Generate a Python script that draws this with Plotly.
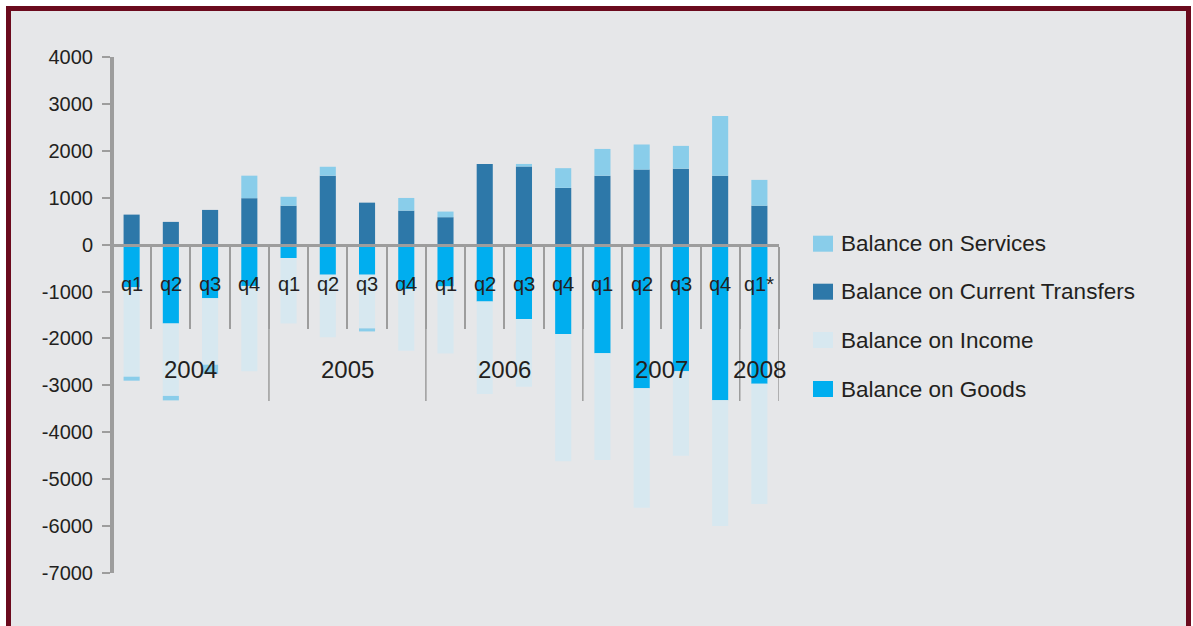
import plotly.graph_objects as go

# ---------------- data ----------------
years = ["2004", "2004", "2004", "2004",
         "2005", "2005", "2005", "2005",
         "2006", "2006", "2006", "2006",
         "2007", "2007", "2007", "2007",
         "2008"]
quarters = ["q1", "q2", "q3", "q4",
            "q1", "q2", "q3", "q4",
            "q1", "q2", "q3", "q4",
            "q1", "q2", "q3", "q4",
            "q1*"]

goods = [-910, -1680, -1145, -880,
         -285, -640, -640, -950,
         -890, -1210, -1585, -1905,
         -2315, -3060, -2700, -3320,
         -2965]
income = [-1905, -1545, -1415, -1820,
          -1395, -1335, -1145, -1310,
          -1430, -1975, -1445, -2715,
          -2275, -2550, -1800, -2680,
          -2565]
transfers = [640, 485, 740, 990,
             830, 1470, 895, 725,
             585, 1720, 1665, 1210,
             1470, 1600, 1620, 1470,
             830]
services = [-85, -95, -195, 480,
            190, 190, -65, 270,
            120, 0, 55, 420,
            570, 535, 485, 1270,
            550]

series_names = ["Balance on Goods", "Balance on Income",
                "Balance on Current Transfers", "Balance on Services"]
series_values = [goods, income, transfers, services]
series_colors = ["#00aeef", "#d7e8f0", "#2d78a9", "#89cdea"]

ytick_vals = [4000, 3000, 2000, 1000, 0, -1000, -2000, -3000, -4000, -5000, -6000, -7000]
ytick_text = ["4000", "3000", "2000", "1000", "0", "-1000", "-2000", "-3000",
              "-4000", "-5000", "-6000", "-7000"]

# ---------------- layout geometry ----------------
W, H = 1193, 626
ML, MR, MT, MB = 112, 414, 57, 53
PW, PH = W - ML - MR, H - MT - MB
YMIN, YMAX = -7000, 4000


def px_x(p):
    return (p - ML) / PW


def px_y(p):
    return (H - MB - p) / PH


FONT = "Liberation Sans Narrow, Arial Narrow, Liberation Sans, Arial, sans-serif"
TXT = "#231f20"
AXC = "#9d9d9d"

cats = [f"{y} {q}" for y, q in zip(years, quarters)]

fig = go.Figure()
for name, vals, col in zip(series_names, series_values, series_colors):
    fig.add_trace(go.Bar(x=cats, y=vals, name=name, marker_color=col,
                         marker_line_width=0, width=0.41, showlegend=False))

shapes = []
annotations = []

# outer frame
shapes.append(dict(type="rect", xref="paper", yref="paper",
                   x0=px_x(8.5), x1=px_x(1188.5), y0=px_y(660), y1=px_y(8.5),
                   line=dict(color="#6b0a1d", width=5), fillcolor="#e6e7e9",
                   layer="below"))

# quarter labels
for c, q in zip(cats, quarters):
    annotations.append(dict(x=c, y=0, xref="x", yref="y", text=q, showarrow=False,
                            yanchor="middle", xanchor="center", yshift=-39,
                            font=dict(family=FONT, size=20, color=TXT)))

# year labels and year separators
groups = []
for i, y in enumerate(years):
    if not groups or groups[-1][0] != y:
        groups.append([y, i, i])
    else:
        groups[-1][2] = i
for y, i0, i1 in groups:
    annotations.append(dict(x=(i0 + i1) / 2, y=0, xref="x", yref="y", text=y,
                            showarrow=False, yanchor="middle", xanchor="center",
                            yshift=-125, font=dict(family=FONT, size=24, color=TXT)))
    shapes.append(dict(type="line", xref="x", yref="paper", x0=i1 + 0.5, x1=i1 + 0.5,
                       y0=px_y(244), y1=px_y(401), line=dict(color=AXC, width=1.5)))

# manual legend
legend_rows_y = [243.7, 291.7, 340, 389]
for k, idx in enumerate([3, 2, 1, 0]):
    yc = legend_rows_y[k]
    shapes.append(dict(type="rect", xref="paper", yref="paper",
                       x0=px_x(813), x1=px_x(833), y0=px_y(yc + 8), y1=px_y(yc - 8),
                       line=dict(width=0), fillcolor=series_colors[idx]))
    annotations.append(dict(x=px_x(839), y=px_y(yc), xref="paper", yref="paper",
                            text=series_names[idx], showarrow=False,
                            xanchor="left", yanchor="middle",
                            font=dict(family=FONT, size=22.5, color=TXT)))

fig.update_layout(
    width=W, height=H,
    margin=dict(l=ML, r=MR, t=MT, b=MB, pad=0),
    paper_bgcolor="white", plot_bgcolor="rgba(0,0,0,0)",
    barmode="relative", bargap=0.59,
    showlegend=False,
    font=dict(family=FONT, color=TXT),
    shapes=shapes, annotations=annotations,
    xaxis=dict(type="category", categoryorder="array", categoryarray=cats,
               range=[-0.5, len(cats) - 0.5], anchor="free",
               position=(0 - YMIN) / (YMAX - YMIN),
               showline=True, linecolor=AXC, linewidth=3,
               ticks="outside", tickson="boundaries", ticklen=82, tickwidth=1.5,
               tickcolor=AXC, showticklabels=False, showgrid=False,
               zeroline=False, fixedrange=True),
    yaxis=dict(range=[YMIN, YMAX], anchor="free", position=0,
               tickvals=ytick_vals, ticktext=ytick_text,
               showline=True, linecolor=AXC, linewidth=4,
               ticks="outside", ticklen=8, tickwidth=2, tickcolor=AXC,
               showgrid=False, zeroline=False,
               tickfont=dict(family=FONT, size=20, color=TXT),
               ticklabelstandoff=5, fixedrange=True),
)

fig.write_html("out.html")
